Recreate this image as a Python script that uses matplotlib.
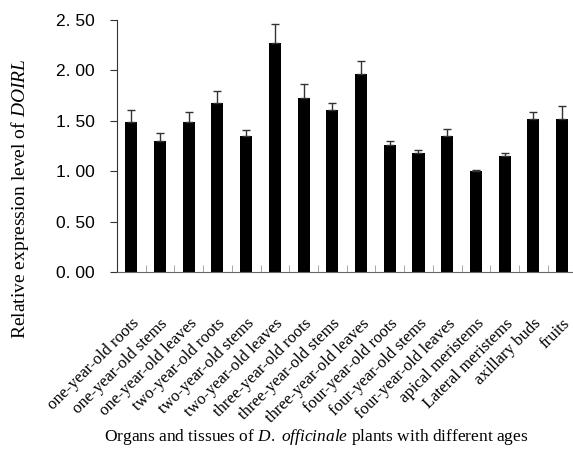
import numpy as np
import matplotlib.pyplot as plt

plt.rcParams['mathtext.fontset'] = 'custom'
plt.rcParams['mathtext.it'] = 'Liberation Serif:italic'
plt.rcParams['mathtext.rm'] = 'Liberation Serif'

tissues = ['one-year-old roots', 'one-year-old stems', 'one-year-old leaves',
           'two-year-old roots', 'two-year-old stems', 'two-year-old leaves',
           'three-year-old roots', 'three-year-old stems', 'three-year-old leaves',
           'four-year-old roots', 'four-year-old stems', 'four-year-old leaves',
           'apical meristems', 'Lateral meristems', 'axillary buds', 'fruits']
expression = [1.49, 1.30, 1.49, 1.68, 1.35, 2.27, 1.73, 1.61,
              1.96, 1.26, 1.18, 1.35, 1.00, 1.15, 1.52, 1.52]
err_up = [0.12, 0.08, 0.10, 0.12, 0.06, 0.19, 0.13, 0.07,
          0.13, 0.04, 0.03, 0.07, 0.015, 0.03, 0.07, 0.13]
yticks = [0.0, 0.5, 1.0, 1.5, 2.0, 2.5]
ytick_labels = ['0. 00', '0. 50', '1. 00', '1. 50', '2. 00', '2. 50']

fig = plt.figure(figsize=(5.73, 4.51), dpi=100)
ax = fig.add_axes([0.204, 0.396, 0.802, 0.56])

x = np.arange(len(tissues))
ax.bar(x, expression, width=0.42, color='black')
ax.errorbar(x, expression, yerr=[np.zeros(len(err_up)), err_up], fmt='none',
            ecolor='#333333', elinewidth=1, capsize=3.2, capthick=1)

ax.set_xlim(-0.5, 15.5)
ax.set_ylim(0, 2.5)
ax.spines['top'].set_visible(False)
ax.spines['right'].set_visible(False)
ax.spines['left'].set_color('#333333')
ax.spines['bottom'].set_color('#666666')

ax.set_yticks(yticks)
ax.set_yticklabels(ytick_labels, family='Liberation Sans', fontsize=12.5)
ax.tick_params(axis='y', direction='out', length=5, pad=11, color='#333333')

ax.set_xticks(x)
ax.set_xticklabels(tissues, rotation=45, ha='right', va='top',
                   rotation_mode='anchor', family='Liberation Serif', fontsize=12)
ax.tick_params(axis='x', which='major', length=0, pad=31)
ax.set_xticks(np.arange(0.5, 15.5, 1), minor=True)
ax.tick_params(axis='x', which='minor', direction='in', length=5, color='#999999')

fig.text(0.035, 0.56, 'Relative expression level of $\\it{DOIRL}$', rotation=90,
         ha='center', va='center', family='Liberation Serif', fontsize=14)
fig.text(0.552, 0.03, 'Organs and tissues of $\\it{D.\\ officinale}$ plants with different ages',
         ha='center', va='center', family='Liberation Serif', fontsize=12.5)

plt.savefig('out.png')
